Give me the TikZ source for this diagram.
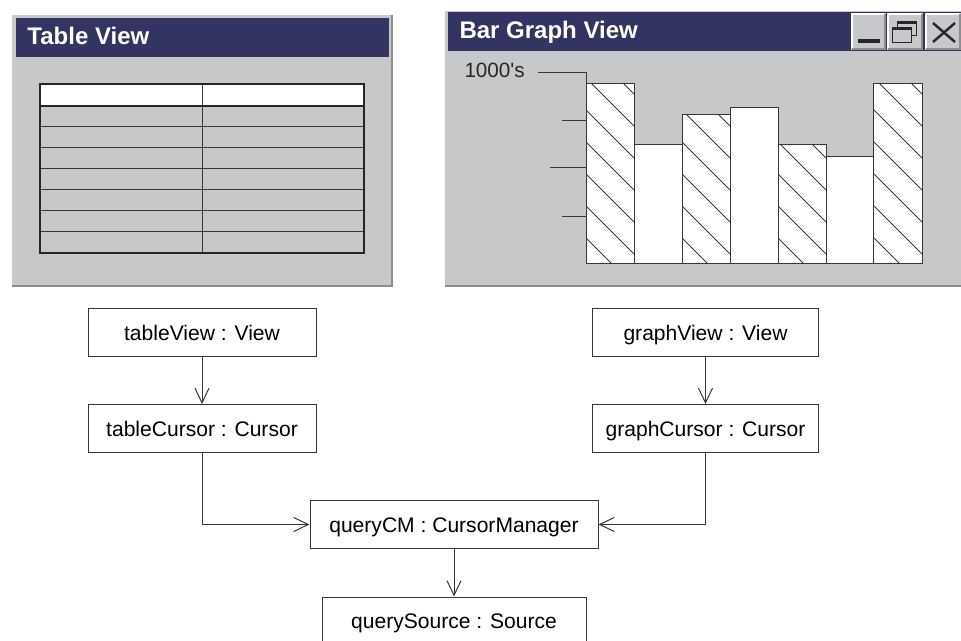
\documentclass[tikz,border=0pt]{standalone}
\usepackage{fontspec}
\setmainfont{Liberation Sans}
\usetikzlibrary{arrows.meta}

\definecolor{winGray}{RGB}{199,200,202}
\definecolor{titleBlue}{RGB}{52,52,98}
\definecolor{winShadow}{RGB}{140,141,143}
\definecolor{inkGray}{RGB}{55,55,55}

\tikzset{every picture/.style={line width=0.75pt}}
\tikzset{
  objbox/.style={draw=inkGray, fill=white, inner sep=0pt, minimum height=36pt, text height=11.3pt, text depth=0pt, font=\fontsize{15.8}{18}\selectfont},
  umlarrow/.style={draw=inkGray, -{Straight Barb[length=11pt,width=10.5pt,line width=0.75pt]}},
  wintitle/.style={anchor=base west, inner sep=0pt, text=white, font=\fontsize{18}{21}\selectfont\bfseries},
  axislabel/.style={anchor=base west, inner sep=0pt, text=black!85, font=\fontsize{15.5}{18}\selectfont},
}

\begin{document}
\begin{tikzpicture}[x=0.75pt,y=0.75pt,yscale=-1,xscale=1]
    \useasboundingbox (0,0) rectangle (961,641);
    \clip (0,0) rectangle (961,641);

    %Shape: Table View window
    \fill[winGray] (12,15) rectangle (393,287);
    \draw[winShadow, line width=1.5pt] (392,15) -- (392,286) -- (12,286);
    \fill[titleBlue] (16,18) rectangle (389,57);
    % Text Node
    \node (tableTitle) [wintitle] at (27,45) {Table View};

    %Shape: table grid
    \fill[white] (40,84) rectangle (364,106);
    \foreach \y in {127,148,169,190,211,232}
      \draw[inkGray] (40,\y) -- (364,\y);
    \draw[inkGray] (202,84) -- (202,253);
    \draw[black!85, line width=1.5pt] (40,106) -- (364,106);
    \draw[black!85, line width=1.5pt] (40,84) rectangle (364,253);

    %Shape: Bar Graph View window
    \fill[winGray] (445,11) rectangle (961,287);
    \draw[winShadow, line width=1.5pt] (445,286) -- (961,286);
    \fill[titleBlue] (448,12) rectangle (961,51);
    % Text Node
    \node (graphTitle) [wintitle] at (459,39) {Bar Graph View};

    %Shape: title bar buttons
    \foreach \bx/\bw in {851/35, 887/36, 925/36} {
      \fill[winGray] (\bx,13) rectangle (\bx+\bw,50);
      \draw[white, line width=1.5pt] (\bx+1,49) -- (\bx+1,14) -- (\bx+\bw-1,14);
      \draw[winShadow, line width=1.5pt] (\bx+1,49) -- (\bx+\bw-1,49) -- (\bx+\bw-1,14);
    }
    \fill[black!85] (858,39) rectangle (880,43);
    \draw[black!85] (897,22) rectangle (916,36);
    \fill[black!85] (897,21) rectangle (916,24);
    \fill[winGray] (892,28) rectangle (911,43);
    \draw[black!85] (892,28) rectangle (911,43);
    \fill[black!85] (892,27) rectangle (911,30);
    \draw[black!85, line width=1.8pt] (933,23) -- (955,42) (955,23) -- (933,42);

    %Shape: bars
    \foreach \xa/\xb/\ytop in {586/634/84, 634/682/145, 682/730/115, 730/778/108, 778/826/145, 826/873/157, 873/922/84}
      \fill[white] (\xa,\ytop) rectangle (\xb,264);
    \foreach \xa/\xb/\ytop in {586/634/84, 682/730/115, 778/826/145, 873/922/84} {
      \begin{scope}
        \clip (\xa,\ytop) rectangle (\xb,264);
        \foreach \c in {-860,-828,...,-316}
          \draw[inkGray, line width=0.6pt] (560,560+\c) -- (940,940+\c);
      \end{scope}
    }
    \foreach \xa/\xb/\ytop in {586/634/84, 634/682/145, 682/730/115, 730/778/108, 778/826/145, 826/873/157, 873/922/84}
      \draw[inkGray] (\xa,\ytop) rectangle (\xb,264);

    %Straight Lines: axis and ticks
    \draw[inkGray] (538,73) -- (586,73) -- (586,84);
    \foreach \y/\xs in {121/562, 168/550, 217/562}
      \draw[inkGray] (\xs,\y) -- (586,\y);
    % Text Node
    \node (unitLabel) [axislabel] at (464,78) {1000\textquotesingle s};

    % Object boxes
    \node (tableView) [objbox, minimum width=171pt] at (202,332.5) {tableView : View};
    \node (tableCursor) [objbox, minimum width=171pt] at (202,428.5) {tableCursor : Cursor};
    \node (graphView) [objbox, minimum width=170pt] at (705.5,332.5) {graphView : View};
    \node (graphCursor) [objbox, minimum width=170pt] at (705.5,428.5) {graphCursor : Cursor};
    \node (queryCM) [objbox, minimum width=216pt] at (454,524.5) {queryCM : CursorManager};
    \node (querySource) [objbox, minimum width=198pt] at (454,621) {querySource : Source};

    % Connectors
    \draw[umlarrow] (tableView) -- (tableCursor);
    \draw[umlarrow] (graphView) -- (graphCursor);
    \draw[umlarrow] (tableCursor) |- (queryCM);
    \draw[umlarrow] (graphCursor) |- (queryCM);
    \draw[umlarrow] (queryCM) -- (querySource);

\end{tikzpicture}
\end{document}
